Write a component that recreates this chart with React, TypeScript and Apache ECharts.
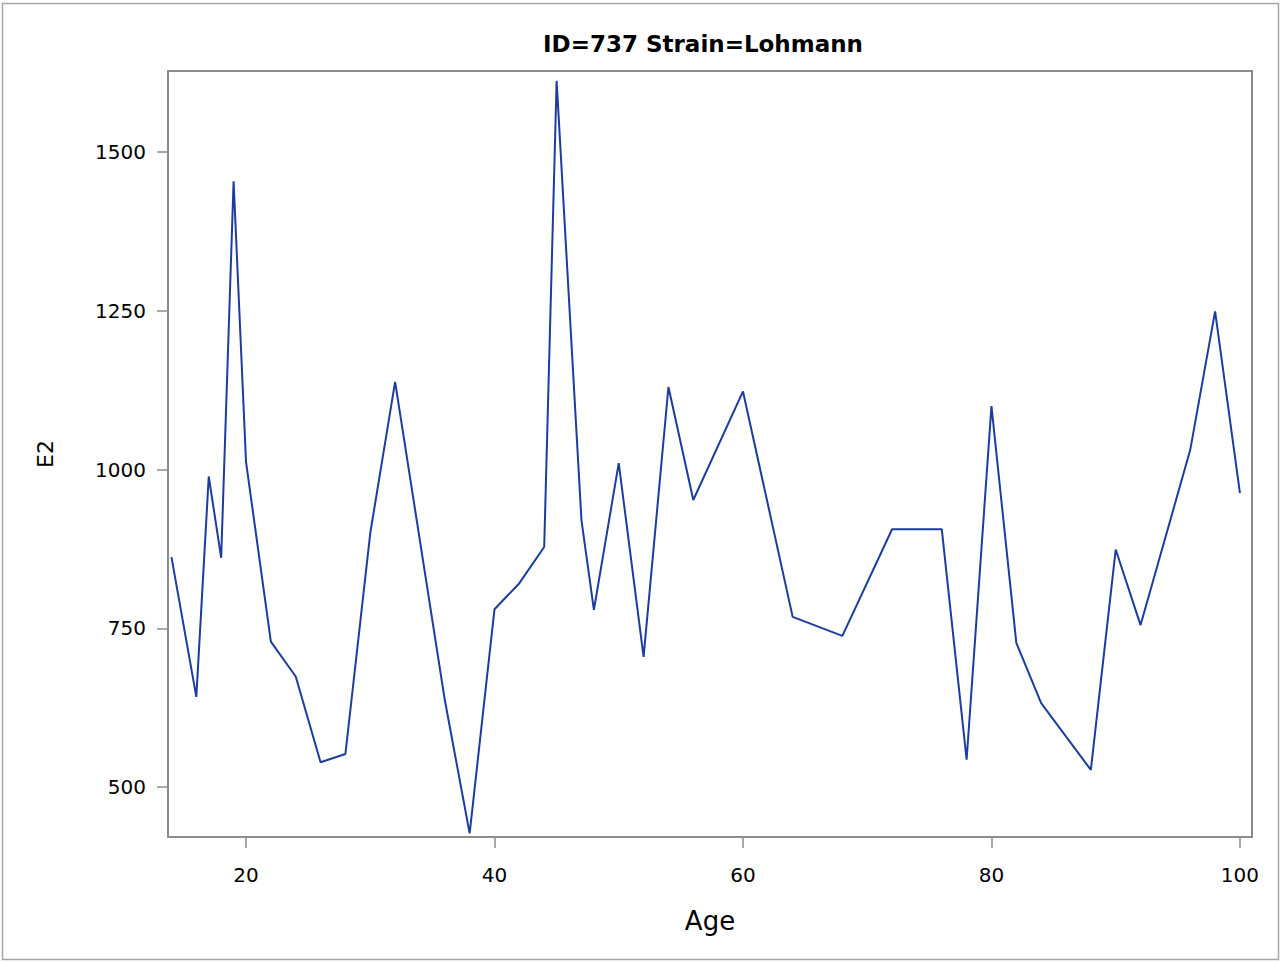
import React, { useEffect, useRef } from "react";
import * as echarts from "echarts";

const titleText = "ID=737 Strain=Lohmann";
const xName = "Age";
const yName = "E2";
const ages = [14, 16, 17, 18, 19, 20, 22, 24, 26, 28, 30, 32, 36, 38, 40, 42, 44, 45, 47, 48, 50, 52, 54, 56, 60, 64, 68, 72, 76, 78, 80, 82, 84, 88, 90, 92, 96, 98, 100];
const e2 = [862, 642, 989, 861, 1454, 1012, 729, 674, 539, 552, 900, 1138, 637, 427, 780, 821, 878, 1612, 920, 779, 1010, 705, 1130, 952, 1123, 768, 738, 906, 906, 543, 1100, 727, 632, 527, 874, 755, 1031, 1249, 963];
const xTicks = [20, 40, 60, 80, 100];
const yTicks = [500, 750, 1000, 1250, 1500];

export default function App() {
  const ref = useRef<HTMLDivElement>(null);
  useEffect(() => {
    if (!ref.current) return;
    const chart = echarts.init(ref.current, undefined, { renderer: "svg" });
    const font = "'DejaVu Sans', sans-serif";
    const axisGray = "#8c8c8c";
    chart.setOption({
      animation: false,
      backgroundColor: "#ffffff",
      grid: {
        left: 168,
        right: 29,
        top: 71,
        bottom: 125,
        show: true,
        borderColor: axisGray,
        borderWidth: 2,
        backgroundColor: "transparent",
      },
      graphic: [
        {
          type: "rect",
          shape: { x: 2.5, y: 3.5, width: 1276, height: 956 },
          style: { fill: "none", stroke: "#a6a6a6", lineWidth: 1.5 },
          silent: true,
        },
        {
          type: "text",
          x: 703,
          y: 44,
          style: {
            text: titleText,
            align: "center",
            verticalAlign: "middle",
            fontFamily: font,
            fontWeight: "bold",
            fontSize: 23,
            fill: "#000000",
          },
        },
      ],
      xAxis: {
        type: "value",
        min: 13.72,
        max: 100.97,
        name: xName,
        nameLocation: "middle",
        nameGap: 71,
        nameTextStyle: { fontFamily: font, fontSize: 26, color: "#000" },
        axisLine: { show: false },
        splitLine: { show: false },
        axisTick: { show: true, length: 11, customValues: xTicks, lineStyle: { color: axisGray, width: 1.5 } },
        axisLabel: { customValues: xTicks, fontFamily: font, fontSize: 20, color: "#000", margin: 28 },
      },
      yAxis: {
        type: "value",
        min: 421.3,
        max: 1627.6,
        name: yName,
        nameLocation: "middle",
        nameGap: 112,
        nameRotate: 90,
        nameTextStyle: { fontFamily: font, fontSize: 22, color: "#000" },
        axisLine: { show: false },
        splitLine: { show: false },
        axisTick: { show: true, length: 11, customValues: yTicks, lineStyle: { color: axisGray, width: 1.5 } },
        axisLabel: { customValues: yTicks, formatter: (v: number) => String(v), fontFamily: font, fontSize: 20, color: "#000", margin: 22 },
      },
      series: [
        {
          type: "line",
          data: ages.map((a, i) => [a, e2[i]]),
          showSymbol: false,
          symbol: "none",
          lineStyle: { color: "#1c3c9e", width: 2 },
        },
      ],
    });
    return () => chart.dispose();
  }, []);
  return <div ref={ref} style={{ position: "absolute", left: 0, top: 0, width: 1281, height: 962 }} />;
}
